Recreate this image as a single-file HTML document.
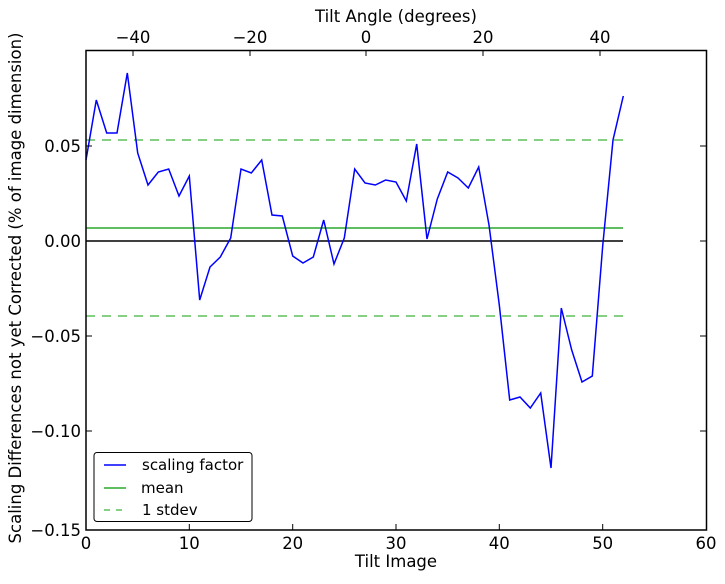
<!DOCTYPE html>
<html><head><style>
body{margin:0;background:#fff;}
svg text{font-family:"DejaVu Sans","Liberation Sans",sans-serif;font-size:16.5px;fill:#000;}
svg text.lg{font-size:15px;}
</style></head><body>
<svg width="725" height="579" viewBox="0 0 725 579" xmlns="http://www.w3.org/2000/svg">
<rect width="725" height="579" fill="#fff"/>
<line x1="86" y1="140" x2="623" y2="140" stroke="#5cc25c" stroke-width="1.5" stroke-dasharray="9,7"/>
<line x1="86" y1="316" x2="623" y2="316" stroke="#5cc25c" stroke-width="1.5" stroke-dasharray="9,7"/>
<line x1="86" y1="228" x2="623" y2="228" stroke="#2aa82a" stroke-width="1.5"/>
<line x1="86" y1="241" x2="623" y2="241" stroke="#000" stroke-width="1.5"/>
<polyline fill="none" stroke="#0000ff" stroke-width="1.5" points="86,160 96.3,100 106.7,133 117,133 127.3,73 137.7,153 148,185 158.3,172 168.7,169 179,196 189.3,176 199.7,300 210,267 220.3,257 230.7,238 241,169 251.3,173 261.7,160 272,215 282.3,216 292.7,256 303,263 313.3,257 323.7,220 334,264 344.3,238 354.7,169 365,183 375.3,185 385.7,180 396,182 406.3,201 416.7,144 427,239 437.3,199 447.7,172 458,178 468.3,188 478.7,167 489,225 499.3,305 509.7,400 520,397 530.3,408 540.7,393 551,468 561.3,308 571.7,350 582,382 592.3,376 602.7,246 613,140 623.3,96"/>
<rect x="86" y="50.5" width="620.5" height="479.5" fill="none" stroke="#000" stroke-width="1.5"/>
<g stroke="#000" stroke-width="1">
<line x1="189.3" y1="530" x2="189.3" y2="524"/><line x1="292.7" y1="530" x2="292.7" y2="524"/>
<line x1="396" y1="530" x2="396" y2="524"/><line x1="499.3" y1="530" x2="499.3" y2="524"/>
<line x1="602.7" y1="530" x2="602.7" y2="524"/>
<line x1="133" y1="50.5" x2="133" y2="56"/><line x1="250" y1="50.5" x2="250" y2="56"/>
<line x1="366" y1="50.5" x2="366" y2="56"/><line x1="483" y1="50.5" x2="483" y2="56"/>
<line x1="600" y1="50.5" x2="600" y2="56"/>
<line x1="86" y1="146" x2="92" y2="146"/><line x1="86" y1="241" x2="92" y2="241"/>
<line x1="86" y1="336" x2="92" y2="336"/><line x1="86" y1="431" x2="92" y2="431"/>
<line x1="706" y1="146" x2="700" y2="146"/><line x1="706" y1="241" x2="700" y2="241"/>
<line x1="706" y1="336" x2="700" y2="336"/><line x1="706" y1="431" x2="700" y2="431"/>
</g>
<g text-anchor="middle">
<text x="86" y="549">0</text><text x="189.3" y="549">10</text><text x="292.7" y="549">20</text>
<text x="396" y="549">30</text><text x="499.3" y="549">40</text><text x="602.7" y="549">50</text>
<text x="706" y="549">60</text>
<text x="396" y="567">Tilt Image</text>
<text x="133" y="43">−40</text><text x="250" y="43">−20</text><text x="366" y="43">0</text>
<text x="483" y="43">20</text><text x="600" y="43">40</text>
<text x="396" y="22">Tilt Angle (degrees)</text>
</g>
<g text-anchor="end">
<text x="81" y="152">0.05</text><text x="81" y="247">0.00</text><text x="81" y="342">−0.05</text>
<text x="81" y="437">−0.10</text><text x="81" y="536">−0.15</text>
</g>
<text transform="translate(21,288) rotate(-90)" text-anchor="middle">Scaling Differences not yet Corrected (% of image dimension)</text>
<rect x="94" y="452.5" width="158" height="69" rx="3" fill="#fff" stroke="#000" stroke-width="1"/>
<line x1="104" y1="465" x2="126" y2="465" stroke="#0000ff" stroke-width="1.5"/>
<line x1="104" y1="488" x2="126" y2="488" stroke="#2aa82a" stroke-width="1.5"/>
<line x1="104" y1="510" x2="126" y2="510" stroke="#5cc25c" stroke-width="1.5" stroke-dasharray="6,6"/>
<text class="lg" x="142" y="470">scaling factor</text>
<text class="lg" x="141" y="493">mean</text>
<text class="lg" x="142" y="515">1 stdev</text>
</svg>
</body></html>
